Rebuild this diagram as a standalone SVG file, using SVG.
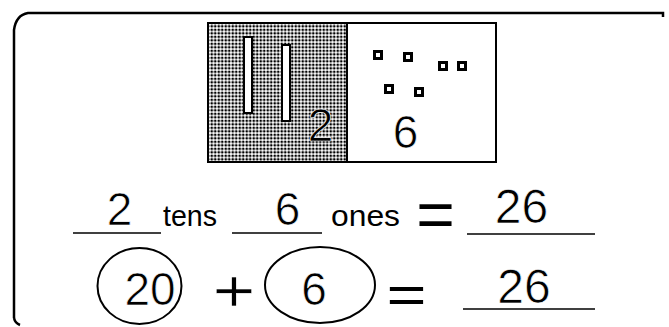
<svg xmlns="http://www.w3.org/2000/svg" width="669" height="327" viewBox="0 0 669 327">
<style>
.t{font-family:"Liberation Sans",Arial,sans-serif;fill:#000}
.big{font-size:46px;text-anchor:middle}
.thin{stroke:#fff;stroke-width:0.7}
.word{font-size:29px}
.ln{stroke:#000;stroke-width:1.5;fill:none}
.sq{fill:#fff;stroke:#000;stroke-width:3}
</style>
<defs>
<pattern id="dots" width="3.5" height="3.5" patternUnits="userSpaceOnUse">
<rect width="3.5" height="3.5" fill="#fff"/>
<circle cx="1.75" cy="1.75" r="1.35" fill="#000"/>
</pattern>
</defs>
<g id="frame">
<path d="M14,318 L14,30 Q16,15 28,13 L663,13 L663,17" fill="none" stroke="#000" stroke-width="2.5"/>
<path d="M14,318 Q15,323 20,325" fill="none" stroke="#000" stroke-width="2.5"/>
</g>
<g id="tens-box">
<rect x="208" y="23" width="139" height="139" fill="url(#dots)" stroke="#000" stroke-width="2"/>
<rect x="244" y="37" width="8" height="76" fill="#fff" stroke="#000" stroke-width="2"/>
<rect x="282" y="45" width="8" height="76" fill="#fff" stroke="#000" stroke-width="2"/>
<text class="t big thin" x="320.5" y="141">2</text>
</g>
<g id="ones-box">
<rect x="347" y="23" width="149" height="139" fill="#fff" stroke="#000" stroke-width="2"/>
<rect class="sq" x="374.5" y="51.5" width="7" height="7"/>
<rect class="sq" x="404.5" y="53.5" width="7" height="7"/>
<rect class="sq" x="439.5" y="62.5" width="7" height="7"/>
<rect class="sq" x="458.5" y="62.5" width="7" height="7"/>
<rect class="sq" x="385.5" y="85.5" width="7" height="7"/>
<rect class="sq" x="415.5" y="88.5" width="7" height="7"/>
<text class="t big thin" x="405.5" y="148">6</text>
</g>
<g id="row1">
<line class="ln" x1="73" y1="233" x2="161" y2="233"/>
<text class="t big thin" x="119.5" y="225">2</text>
<text class="t word" x="163" y="226" textLength="54" lengthAdjust="spacingAndGlyphs">tens</text>
<line class="ln" x1="232" y1="233" x2="322" y2="233"/>
<text class="t big thin" x="287.5" y="225">6</text>
<text class="t word" x="331" y="226" textLength="69" lengthAdjust="spacingAndGlyphs">ones</text>
<text class="t" x="435.5" y="237" font-size="66" text-anchor="middle">=</text>
<line class="ln" x1="467" y1="234" x2="595" y2="234"/>
<text class="t thin" x="521.5" y="223" font-size="48" text-anchor="middle">26</text>
</g>
<g id="row2">
<ellipse cx="139.5" cy="286" rx="42" ry="38" fill="none" stroke="#000" stroke-width="2"/>
<text class="t big thin" x="150" y="305">20</text>
<text class="t thin" x="234" y="311" font-size="60" text-anchor="middle" textLength="43" lengthAdjust="spacingAndGlyphs">+</text>
<ellipse cx="320" cy="285" rx="55" ry="38" fill="none" stroke="#000" stroke-width="2"/>
<text class="t big thin" x="314" y="305">6</text>
<text class="t" x="406.5" y="313" font-size="54" text-anchor="middle" textLength="40" lengthAdjust="spacingAndGlyphs">=</text>
<text class="t thin" x="524" y="303" font-size="48" text-anchor="middle">26</text>
<line class="ln" x1="463" y1="309" x2="595" y2="309"/>
</g>
</svg>
